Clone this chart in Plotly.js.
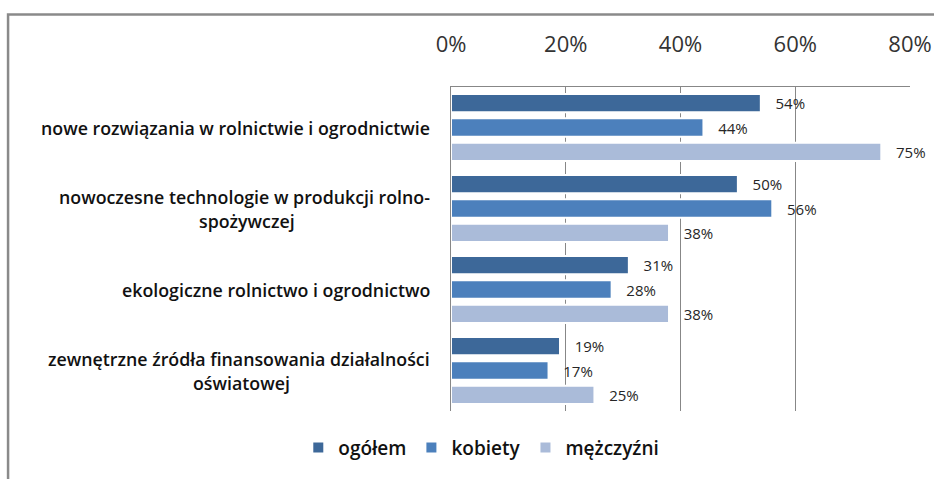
<!DOCTYPE html>
<html>
<head>
<meta charset="utf-8">
<script src="https://cdn.plot.ly/plotly-3.0.1.min.js"></script>
<style>
html,body{margin:0;padding:0;background:#fff;}
#chart{width:934px;height:479px;}
</style>
</head>
<body>
<div id="chart"></div>
<script>
var categories = [
  "nowe rozwiązania w rolnictwie i ogrodnictwie",
  "nowoczesne technologie w produkcji rolno-<br>spożywczej",
  "ekologiczne rolnictwo i ogrodnictwo",
  "zewnętrzne źródła finansowania działalności<br>oświatowej"
];
var seriesNames = ["ogółem", "kobiety", "mężczyźni"];
var ogolem    = [0.54, 0.50, 0.31, 0.19];
var kobiety   = [0.44, 0.56, 0.28, 0.17];
var mezczyzni = [0.75, 0.38, 0.38, 0.25];
var tickVals  = [0, 0.2, 0.4, 0.6, 0.8];
var tickText  = ["0%", "20%", "40%", "60%", "80%"];

var colors = ["#3D6899", "#4C80BC", "#AABBD9"];
var seriesValues = [ogolem, kobiety, mezczyzni];

var traces = seriesValues.map(function (vals, i) {
  return {
    type: "bar",
    orientation: "h",
    name: seriesNames[i],
    x: vals,
    y: categories,
    marker: { color: colors[i], line: { color: "#ffffff", width: 2 } },
    texttemplate: "\u00a0\u00a0\u00a0%{x:.0%}",
    textposition: "outside",
    constraintext: "none",
    cliponaxis: false,
    textfont: { family: "Open Sans", size: 15, color: "#262626" },
    hoverinfo: "skip"
  };
});

var labFamily = "Open Sans";
var labSize = 17.8;
var labWeight = 600;
var cv = document.createElement("canvas").getContext("2d");
cv.font = labWeight + " " + labSize + "px '" + labFamily + "'";

var annotations = [];
categories.forEach(function (c) {
  var lines = c.split("<br>");
  var n = lines.length;
  var w0 = cv.measureText(lines[0]).width;
  lines.forEach(function (ln, j) {
    annotations.push({
      xref: "paper", yref: "y",
      x: -0.041, y: c,
      xanchor: j === 0 ? "right" : "center",
      xshift: j === 0 ? 0 : -w0 / 2,
      yanchor: "middle",
      text: ln,
      showarrow: false,
      yshift: -((j - (n - 1) / 2) * 24),
      font: { family: labFamily, size: labSize, color: "#111", weight: labWeight }
    });
  });
});

var layout = {
  width: 934, height: 479,
  margin: { l: 451, r: 24, t: 87, b: 66 },
  paper_bgcolor: "#ffffff",
  plot_bgcolor: "#ffffff",
  barmode: "group",
  bargap: 0.098,
  bargroupgap: 0.25,
  showlegend: true,
  legend: {
    orientation: "h",
    x: 0.066, xanchor: "center",
    y: -0.113, yanchor: "middle",
    font: { family: "Open Sans", size: 19, color: "#111", weight: 600 },
    traceorder: "normal",
    itemwidth: 30
  },
  xaxis: {
    side: "top",
    range: [0, 0.8],
    tickvals: tickVals,
    ticktext: tickText,
    showgrid: true,
    gridcolor: "#878787",
    gridwidth: 1,
    zeroline: false,
    showline: true,
    linecolor: "#878787",
    linewidth: 1,
    ticks: "",
    ticklabelstandoff: 25,
    tickfont: { family: "Open Sans", size: 22, color: "#333" },
    fixedrange: true
  },
  yaxis: {
    autorange: "reversed",
    showticklabels: false,
    showgrid: false,
    zeroline: false,
    showline: true,
    linecolor: "#878787",
    linewidth: 1,
    ticks: "",
    fixedrange: true
  },
  annotations: annotations,
  shapes: [
    {
      type: "path", xref: "paper", yref: "paper",
      path: "M -0.965,-0.5 L -0.965,1.224 L 1.2,1.224",
      line: { color: "#8a8a8a", width: 2.5 }
    }
  ]
};

Plotly.newPlot("chart", traces, layout, { staticPlot: true, displayModeBar: false });
</script>
</body>
</html>
